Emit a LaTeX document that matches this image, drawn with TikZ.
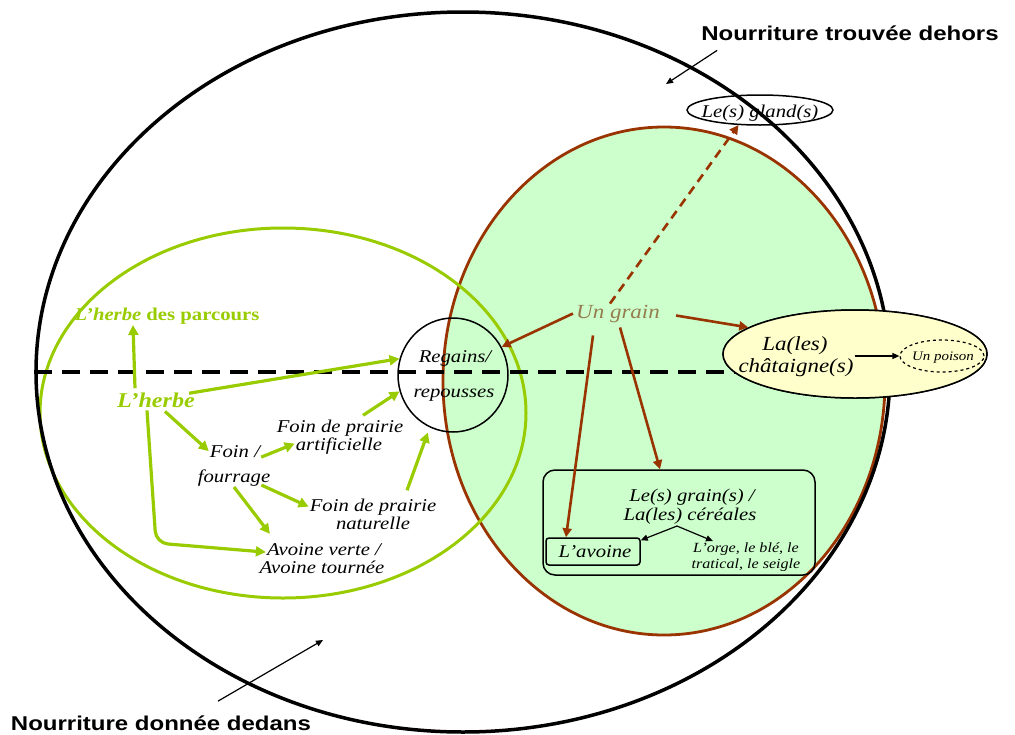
\documentclass[tikz,border=0pt]{standalone}
\usepackage{fontspec}
\setmainfont{Liberation Serif}[FakeStretch=1.15]
\newfontfamily\labfont{Liberation Sans}[FakeStretch=1.2]
\usetikzlibrary{arrows.meta,shapes.geometric}
\definecolor{ygreen}{RGB}{153,204,0}
\definecolor{brn}{RGB}{153,51,0}
\definecolor{lgreen}{RGB}{204,255,204}
\definecolor{cream}{RGB}{255,255,204}
\definecolor{graintxt}{RGB}{150,125,80}
\tikzset{
  txt/.style={inner sep=1pt, anchor=base, font=\itshape\fontsize{18}{18}\selectfont},
  smalltxt/.style={inner sep=1pt, anchor=base, font=\itshape\fontsize{14}{14}\selectfont},
  lab/.style={inner sep=1pt, anchor=base, font=\labfont\bfseries\fontsize{20}{20}\selectfont},
  gtxt/.style={inner sep=1pt, anchor=base, text=ygreen, font=\bfseries\fontsize{18}{18}\selectfont},
  ring/.style={draw, ellipse, inner sep=0pt},
  garrow/.style={draw=ygreen, line width=3.2pt, -{Triangle[length=10pt,width=10pt]}},
  barrow/.style={draw=brn, line width=2.6pt, -{Triangle[length=9pt,width=9pt]}},
  karrow/.style={draw=black, line width=1.2pt, -{Triangle[length=7pt,width=6pt]}},
}
\begin{document}
\begin{tikzpicture}[x=1pt,y=-1pt]
\useasboundingbox (0,0) rectangle (1015,734);
% zones
\node[ring, draw=brn, fill=lgreen, line width=2.8pt, minimum width=442pt, minimum height=508pt] (grainzone) at (664,381) {};
\node[ring, draw=ygreen, line width=3pt, minimum width=486pt, minimum height=370pt] (herbzone) at (283,413) {};
% gland
\node[ring, line width=1.5pt, minimum width=146pt, minimum height=30pt] (gland) at (760,110) {};
\node[txt] (glandT) at (760,117) {Le(s) gland(s)};
% big ellipse
\node[ring, line width=3.5pt, minimum width=854pt, minimum height=720pt] (big) at (463,372) {};
% chataigne
\node[ring, line width=1.5pt, minimum width=264pt, minimum height=88pt] (chatpre) at (855,354) {};
\draw[line width=4pt, dash pattern=on 18pt off 10pt] (big.west) -- (big.west -| chatpre.center);
\node[ring, fill=cream, line width=1.5pt, minimum width=264pt, minimum height=88pt] (chat) at (855,354) {};
\node[ring, dashed, line width=1.2pt, minimum width=84pt, minimum height=32pt] (poison) at (942,356) {};
\node[inner sep=1pt, anchor=base, font=\itshape\fontsize{20}{20}\selectfont] (chatA) at (795,350) {La(les)};
\node[inner sep=1pt, anchor=base, font=\itshape\fontsize{20}{20}\selectfont] (chatB) at (796,372) {châtaigne(s)};
\node[inner sep=1pt, anchor=base, font=\itshape\fontsize{13}{13}\selectfont] (poisonT) at (943,360) {Un poison};
% regains
\node[ring, line width=1.5pt, minimum width=110pt, minimum height=114pt] (regains) at (453,375) {};
\node[txt] (regA) at (455,362) {Regains/};
\node[txt] (regB) at (454,397) {repousses};
% labels
\node[lab] (trouvee) at (850,40) {Nourriture trouvée dehors};
\node[lab] (dedans) at (161,730) {Nourriture donnée dedans};
\coordinate (outpt) at (666,84);
\coordinate (inpt) at (323,640);
\draw[karrow] ([xshift=17pt,yshift=-9pt]trouvee.south west) -- (outpt);
\draw[karrow] ([xshift=57pt,yshift=13pt]dedans.north) -- (inpt);
% green texts
\node[gtxt] (parcours) at (167,320) {\itshape L’herbe\/\upshape{} des parcours};
\node[inner sep=1pt, anchor=base, text=ygreen, font=\bfseries\itshape\fontsize{21}{21}\selectfont] (herbe) at (156,407) {L’herbe};
\node[txt] (foinA) at (235,457) {Foin /};
\node[txt] (foinB) at (234,482) {fourrage};
\node[txt] (artifA) at (340,432) {Foin de prairie};
\node[txt] (artifB) at (339,450) {artificielle};
\node[txt] (natA) at (373,511) {Foin de prairie};
\node[txt] (natB) at (373,529) {naturelle};
\node[txt] (avA) at (324,555) {Avoine verte /};
\node[txt] (avB) at (322,573) {Avoine tournée};
% grain side
\node[inner sep=1pt, anchor=base, text=graintxt, font=\itshape\fontsize{20}{20}\selectfont] (grain) at (618,318) {Un grain};
\node[draw, rounded corners=12pt, line width=1.5pt, minimum width=272pt, minimum height=105pt, inner sep=0pt] (cbox) at (679,522.5) {};
\node[draw, rounded corners=3pt, line width=1.5pt, minimum width=94pt, minimum height=27pt, inner sep=0pt] (avoine) at (593,551.5) {};
\node[txt] (avoineT) at (595,557) {L’avoine};
\node[txt] (cerA) at (692,501) {Le(s) grain(s) /};
\node[txt] (cerB) at (690,520) {La(les) céréales};
\node[smalltxt] (orgeA) at (746,552) {L’orge, le blé, le};
\node[smalltxt] (orgeB) at (746,568) {tratical, le seigle};
% green arrows
\draw[garrow] ([xshift=-21pt,yshift=3pt]herbe.north) -- ([xshift=-34pt]parcours.south);
\draw[garrow] ([xshift=-7pt,yshift=-2pt]herbe.north east) -- (regains.163);
\draw[garrow] ([xshift=9pt,yshift=-3pt]herbe.south) -- (foinA.west);
\coordinate (hbend) at (156,543);
\draw[garrow, rounded corners=12pt] ([xshift=-9pt,yshift=-2pt]herbe.south) -- (hbend) -- ([yshift=-3pt]avA.west);
\draw[garrow] ([yshift=-6pt]foinA.east) -- ([yshift=2pt]artifB.west);
\draw[garrow] ([xshift=-10pt,yshift=2pt]foinB.south east) -- (natA.west);
\draw[garrow] (foinB.south) -- ([xshift=4pt,yshift=8pt]avA.north west);
\draw[garrow] ([xshift=23pt,yshift=3pt]artifA.north) -- (regains.197);
\draw[garrow] ([xshift=34pt,yshift=7pt]natA.north) -- ([yshift=-6pt]regains.244);
% brown arrows
\draw[barrow] ([xshift=-2pt]grain.west) -- (regains.30);
\draw[barrow, dash pattern=on 9pt off 6pt] ([xshift=-8pt]grain.north) -- (gland.215);
\draw[barrow] ([xshift=15pt,yshift=-2pt]grain.east) -- (chat.166);
\draw[barrow] ([xshift=-25pt,yshift=-12pt]grain.south) -- ([xshift=-27pt]avoine.north);
\draw[barrow] ([xshift=2pt,yshift=-4pt]grain.south) -- ([xshift=-19pt]cbox.north);
% black arrows
\draw[karrow] ([xshift=-13pt,yshift=-1pt]cerB.south) -- ([yshift=-3pt]avoine.north east);
\draw[karrow] ([xshift=-13pt,yshift=-1pt]cerB.south) -- ([xshift=-33pt]orgeA.north);
\draw[karrow] (chatB.east |- poison.west) -- (poison.west);
\end{tikzpicture}
\end{document}
